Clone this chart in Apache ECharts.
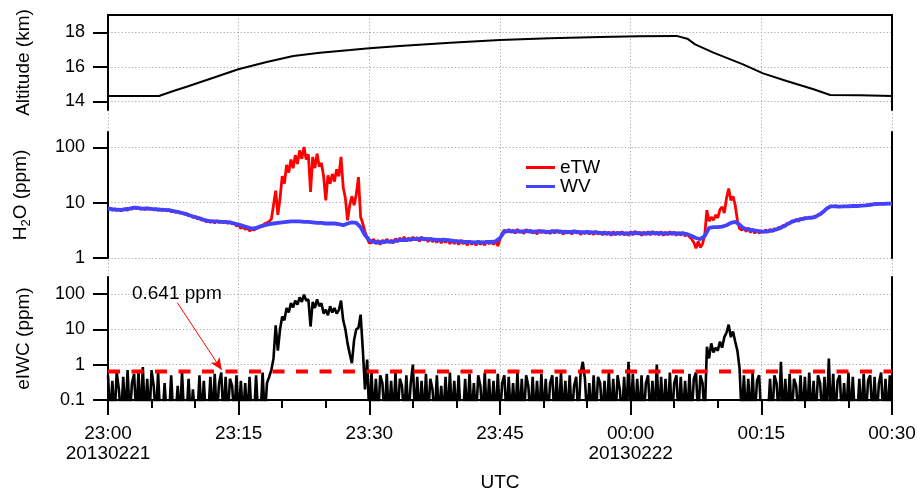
<!DOCTYPE html>
<html>
<head>
<meta charset="utf-8">
<script src="https://cdn.jsdelivr.net/npm/echarts@6/dist/echarts.min.js"></script>
<style>html,body{margin:0;padding:0;background:#fff}#c{width:917px;height:491px}</style>
</head>
<body>
<div id="c"></div>
<script>
// ---- DATA (time in minutes after 23:00 UTC, 20130221) ----
const xTickLabels = ['23:00\n20130221', '23:15', '23:30', '23:45', '00:00\n20130222', '00:15', '00:30'];

const altMinutes = [0, 5.85, 7.5, 9.03, 12.09, 14.96, 18.22, 21.27, 24.34, 27.8, 30, 33.5, 39.3, 45, 50.7, 56.5, 61, 65.28, 66.5, 67.4, 69.5, 72.9, 75.2, 77.9, 81.0, 82.9, 86.3, 90];
const altKm = [14.31, 14.31, 14.60, 14.85, 15.37, 15.86, 16.28, 16.63, 16.82, 16.97, 17.07, 17.2, 17.4, 17.55, 17.65, 17.73, 17.77, 17.79, 17.63, 17.30, 16.82, 16.14, 15.62, 15.18, 14.70, 14.37, 14.35, 14.31];

// WV (ppm), sampled every 0.5 min from 23:00
const wvStartMin = 0, wvStepMin = 0.5;
const wvPpm = [
  7.8, 7.6, 7.5, 7.4, 7.6, 7.8, 8.1, 8.0, 7.8, 7.9,
  7.7, 7.6, 7.5, 7.4, 7.3, 7.0, 6.8, 6.5, 6.2, 5.8,
  5.5, 5.2, 4.9, 4.7, 4.6, 4.6, 4.5, 4.5, 4.4, 4.2,
  4.0, 3.8, 3.6, 3.4, 3.5, 3.7, 3.9, 4.1, 4.2, 4.3,
  4.4, 4.5, 4.6, 4.6, 4.6, 4.5, 4.5, 4.4, 4.3, 4.3,
  4.2, 4.2, 4.2, 4.1, 3.9, 4.2, 4.4, 4.3, 3.6, 2.6,
  2.1, 1.95, 1.9, 1.95, 2.0, 1.95, 2.05, 2.1, 2.1, 2.15,
  2.2, 2.2, 2.25, 2.2, 2.2, 2.15, 2.1, 2.15, 2.1, 2.05,
  2.0, 2.0, 1.95, 1.95, 1.9, 1.95, 1.9, 1.95, 1.95, 2.0,
  2.3, 3.0, 3.1, 3.0, 3.05, 3.0, 3.1, 3.0, 3.0, 3.05,
  3.0, 2.95, 3.0, 3.05, 3.0, 2.95, 2.95, 3.0, 2.95, 2.9,
  2.95, 2.9, 2.9, 2.85, 2.8, 2.8, 2.75, 2.8, 2.8, 2.75,
  2.8, 2.85, 2.8, 2.75, 2.8, 2.85, 2.8, 2.8, 2.75, 2.8,
  2.8, 2.75, 2.8, 2.7, 2.5, 2.3, 2.2, 2.5, 3.5, 3.6,
  3.6, 3.7, 3.9, 4.3, 4.5, 4.0, 3.4, 3.3, 3.2, 3.1,
  3.0, 3.0, 3.1, 3.2, 3.4, 3.7, 4.1, 4.5, 4.8, 5.0,
  5.2, 5.3, 5.4, 5.9, 6.6, 7.8, 8.6, 8.6, 8.5, 8.6,
  8.6, 8.7, 8.7, 8.8, 8.9, 9.1, 9.4, 9.5, 9.5, 9.6,
  9.6
];

// eTW (ppm), sampled every 0.25 min; each row = 2 minutes
const etwStartMin = 0, etwStepMin = 0.25;
const etwPpm = [
  7.6, 8.0, 7.3, 7.7, 7.2, 7.6, 7.1, 7.5,      // 0
  7.7, 7.3, 8.0, 7.6, 8.3, 7.8, 8.1, 7.6,      // 2
  7.9, 7.5, 8.0, 7.6, 7.8, 7.4, 7.7, 7.3,      // 4
  7.6, 7.2, 7.5, 7.1, 7.4, 6.9, 7.1, 6.7,      // 6
  6.9, 6.5, 6.6, 6.2, 6.3, 5.8, 5.9, 5.4,      // 8
  5.6, 5.1, 5.3, 4.8, 5.0, 4.5, 4.8, 4.4,      // 10
  4.7, 4.3, 4.7, 4.4, 4.6, 4.3, 4.6, 4.2,      // 12
  4.5, 4.1, 4.3, 3.8, 3.9, 3.4, 3.7, 3.3,      // 14
  3.5, 3.1, 3.3, 3.2, 3.4, 3.5, 3.8, 3.9,      // 16
  4.2, 4.3, 4.6, 5.0, 9.0, 16.5, 6.0, 12,      // 18
  30, 22, 48, 35, 60, 42, 72, 50,              // 20
  88, 62, 101, 60, 75, 15.6, 67, 42,           // 22
  77, 45, 52, 30, 11, 31, 22, 33,              // 24
  24, 40, 30, 67, 19, 12, 4.8, 9,              // 26
  13, 9, 14, 29, 5.5, 4.2, 3.0, 2.3,           // 28
  1.85, 1.9, 2.2, 1.8, 2.1, 1.75, 2.1, 1.85,   // 30
  2.2, 1.9, 2.1, 1.85, 2.25, 1.95, 2.3, 2.0,   // 32
  2.4, 2.0, 2.3, 2.05, 2.4, 2.1, 2.35, 2.0,    // 34
  2.4, 2.1, 2.3, 1.95, 2.3, 1.95, 2.2, 1.9,    // 36
  2.25, 1.85, 2.2, 1.9, 2.2, 1.8, 2.15, 1.8,   // 38
  2.1, 1.75, 2.1, 1.8, 2.0, 1.7, 2.05, 1.75,   // 40
  2.0, 1.7, 2.0, 1.75, 2.0, 1.7, 2.05, 1.8,    // 42
  2.0, 1.75, 2.05, 1.65, 2.2, 2.8, 3.2, 2.9,   // 44
  3.3, 2.9, 3.2, 2.8, 3.3, 2.9, 3.1, 2.75,     // 46
  3.3, 2.9, 3.2, 2.8, 3.1, 2.7, 3.2, 2.85,     // 48
  3.15, 2.8, 3.1, 2.75, 3.2, 2.8, 3.15, 2.85,  // 50
  3.1, 2.7, 3.1, 2.8, 3.05, 2.7, 3.15, 2.8,    // 52
  3.05, 2.65, 3.0, 2.75, 3.1, 2.7, 3.0, 2.65,  // 54
  3.05, 2.7, 2.95, 2.6, 3.0, 2.65, 2.95, 2.55, // 56
  3.0, 2.6, 2.95, 2.65, 3.0, 2.6, 2.9, 2.55,   // 58
  3.0, 2.6, 3.05, 2.7, 2.95, 2.55, 2.95, 2.65, // 60
  3.0, 2.6, 3.05, 2.65, 2.95, 2.6, 3.0, 2.55,  // 62
  2.95, 2.6, 3.0, 2.65, 2.95, 2.55, 2.9, 2.6,  // 64
  2.9, 2.5, 2.7, 2.4, 2.2, 1.9, 1.5, 2.0,      // 66
  1.55, 1.8, 2.6, 7.3, 4.6, 5.5, 4.8, 6.0,     // 68
  5.3, 7.5, 8.4, 6.5, 12, 18, 11, 13,          // 70
  9, 4.8, 3.4, 3.2, 3.6, 3.0, 3.5, 2.9,        // 72
  3.3, 2.8, 3.2, 2.8, 3.1, 2.9, 3.2, 2.9,      // 74
  3.3, 3.0, 3.4, 3.2, 3.6, 3.4, 3.9, 3.7,      // 76
  4.3, 4.1, 4.7, 4.5, 5.0, 4.6, 5.2, 4.9,      // 78
  5.4, 5.1, 5.5, 5.2, 5.6, 5.4, 6.1, 6.0,      // 80
  6.8, 7.0, 7.9, 8.3, 8.7, 8.5, 8.8, 8.4,      // 82
  8.6, 8.5, 8.7, 8.5, 8.7, 8.6, 8.8, 8.6,      // 84
  8.8, 8.7, 8.9, 8.8, 9.0, 9.0, 9.2, 9.3,      // 86
  9.5, 9.4, 9.6, 9.5, 9.6, 9.5, 9.7, 9.6,      // 88
  9.6                                          // 90
];

// eIWC (ppm), sampled every 0.25 min; values under 0.1 fall below the axis
const eiwcStartMin = 0, eiwcStepMin = 0.25;
const eiwcPpm = [
  0.5, 0.03, 0.35, 0.03, 0.6, 0.2, 0.03, 0.45,   // 0
  0.03, 0.7, 0.03, 0.3, 0.55, 0.03, 0.65, 0.03,  // 2
  0.85, 0.03, 0.4, 0.03, 0.7, 0.25, 0.03, 0.6,   // 4
  0.03, 0.03, 0.3, 0.03, 0.03, 0.5, 0.03, 0.03,  // 6
  0.25, 0.03, 0.6, 0.03, 0.03, 0.4, 0.03, 0.2,   // 8
  0.03, 0.03, 0.5, 0.03, 0.35, 0.03, 0.03, 0.45, // 10
  0.03, 0.55, 0.03, 0.3, 0.6, 0.03, 0.45, 0.03,  // 12
  0.4, 0.25, 0.03, 0.5, 0.03, 0.35, 0.03, 0.3,   // 14
  0.03, 0.45, 0.03, 0.03, 0.5, 0.03, 0.03, 0.6,  // 16
  0.03, 0.3, 0.45, 0.7, 1.5, 13, 2.5, 10,        // 18
  23, 18, 40, 30, 55, 42, 65, 50,                // 20
  80, 60, 95, 65, 70, 12, 60, 40,                // 22
  70, 45, 55, 28, 36, 25, 45, 30,                // 24
  40, 28, 35, 65, 18, 10, 4, 2,                  // 26
  1.1, 5, 10, 11, 26, 2.7, 0.2, 1.4,             // 28
  0.03, 0.6, 0.03, 0.4, 0.03, 0.5, 0.3, 0.03,    // 30
  0.55, 0.03, 0.35, 0.03, 0.6, 0.03, 0.4, 0.25,  // 32
  0.03, 0.5, 0.03, 0.3, 1.0, 0.03, 0.45, 0.03,   // 34
  0.35, 0.03, 0.55, 0.03, 0.4, 0.2, 0.03, 0.5,   // 36
  0.03, 0.25, 0.03, 0.45, 0.03, 0.6, 0.03, 0.35, // 38
  0.03, 0.5, 0.03, 0.03, 0.4, 0.03, 0.55, 0.03,  // 40
  0.3, 0.03, 0.5, 0.25, 0.03, 0.6, 0.03, 0.4,    // 42
  0.03, 0.35, 0.03, 0.55, 0.03, 0.3, 0.5, 0.03,  // 44
  0.45, 0.03, 0.3, 0.03, 0.6, 0.03, 0.4, 0.03,   // 46
  0.5, 0.25, 0.03, 0.45, 0.03, 0.35, 0.03, 0.55, // 48
  0.03, 0.4, 0.03, 0.3, 0.5, 0.03, 0.45, 0.03,   // 50
  0.6, 0.03, 0.35, 0.03, 0.5, 0.03, 0.25, 0.45,  // 52
  0.03, 0.55, 1.2, 0.4, 0.03, 0.3, 0.03, 0.5,    // 54
  0.03, 0.45, 0.3, 0.03, 0.35, 0.03, 0.6, 0.03,  // 56
  0.4, 0.03, 0.5, 0.2, 0.03, 0.45, 0.03, 1.2,    // 58
  0.03, 0.55, 0.03, 0.4, 0.03, 0.5, 0.03, 0.3,   // 60
  0.5, 0.03, 0.35, 0.03, 1.0, 0.03, 0.45, 0.03,  // 62
  0.4, 0.03, 0.6, 0.03, 0.3, 0.5, 0.03, 0.45,    // 64
  0.03, 0.35, 0.03, 0.55, 0.03, 0.4, 0.6, 0.03,  // 66
  0.5, 0.3, 0.03, 3.2, 1.5, 4, 2.2, 3,           // 68
  2.5, 4.5, 3, 6, 8, 13.5, 6, 8.7,               // 70
  4.5, 2.5, 0.8, 0.03, 0.5, 0.03, 0.4, 0.03,     // 72
  0.6, 0.03, 0.35, 0.5, 0.03, 0.03, 0.03, 0.03,  // 74
  0.4, 0.03, 0.5, 0.3, 0.03, 1.2, 0.03, 0.4,     // 76
  0.03, 0.55, 0.03, 0.4, 0.25, 0.03, 0.5, 0.03,  // 78
  0.45, 0.03, 0.6, 0.03, 0.35, 0.03, 0.5, 0.3,   // 80
  0.03, 0.45, 0.03, 1.5, 0.03, 0.55, 0.03, 0.35, // 82
  0.5, 0.03, 0.3, 0.03, 0.6, 0.03, 0.45, 0.03,   // 84
  0.03, 0.4, 0.03, 0.55, 0.03, 0.35, 0.5, 0.03,  // 86
  0.45, 0.03, 0.3, 0.6, 0.03, 0.4, 0.03, 0.5,    // 88
  0.03                                           // 90
];

const thresholdPpm = 0.641;
const thresholdLabel = '0.641 ppm';

// ---- CHART ----
const FONT = 'Liberation Sans, Arial, Helvetica, sans-serif';
const toPairs = (vals, start, step) => vals.map((v, i) => [start + i * step, v]);

const gridL = 108, gridR = 25;
const axisLineStyle = { color: '#000', width: 2 };
const gridLineStyle = { color: '#a8a8a8', width: 1, type: [1.2, 2.2] };
const tickLabelStyle = { color: '#000', fontSize: 18, fontFamily: FONT };
const nameStyle = { color: '#000', fontSize: 19, fontFamily: FONT };

function hiddenX(gi) {
  return { type: 'value', gridIndex: gi, min: 0, max: 90, interval: 15,
    axisLine: { show: false }, axisTick: { show: false }, axisLabel: { show: false }, splitLine: { show: false } };
}
function rightY(gi) {
  return { type: 'value', gridIndex: gi, position: 'right', min: 0, max: 1,
    axisLine: { show: true, onZero: false, lineStyle: axisLineStyle },
    axisTick: { show: false }, axisLabel: { show: false }, splitLine: { show: false } };
}
function leftY(gi, opts) {
  return Object.assign({
    gridIndex: gi, position: 'left',
    nameLocation: 'middle', nameRotate: 90, nameGap: 75, nameTextStyle: nameStyle,
    axisLine: { show: true, onZero: false, lineStyle: axisLineStyle },
    axisTick: { show: true, inside: false, length: 15, lineStyle: { color: '#000', width: 2 }, customValues: opts.ticks },
    axisLabel: { show: true, margin: 23, customValues: opts.ticks, ...tickLabelStyle, formatter: v => String(v) },
    splitLine: { show: true, lineStyle: gridLineStyle }
  }, opts.base);
}
const gridBase = { left: gridL, right: gridR, containLabel: false, outerBoundsMode: 'none' };

const option = {
  animation: false,
  backgroundColor: '#fff',
  textStyle: { fontFamily: FONT },
  grid: [
    Object.assign({ top: 15, height: 95 }, gridBase),
    Object.assign({ top: 132, height: 126 }, gridBase),
    Object.assign({ top: 277, height: 123 }, gridBase),
    Object.assign({ top: 15, height: 385 }, gridBase)
  ],
  xAxis: [
    hiddenX(0),
    { type: 'value', gridIndex: 0, position: 'top', min: 0, max: 90,
      axisLine: { show: true, onZero: false, lineStyle: axisLineStyle },
      axisTick: { show: false }, axisLabel: { show: false }, splitLine: { show: false } },
    hiddenX(1),
    { type: 'value', gridIndex: 2, position: 'bottom', min: 0, max: 90, interval: 15,
      name: 'UTC', nameLocation: 'middle', nameGap: 73, nameTextStyle: nameStyle,
      axisLine: { show: true, onZero: false, lineStyle: axisLineStyle },
      axisTick: { show: true, length: 15, lineStyle: { color: '#000', width: 2 } },
      minorTick: { show: true, splitNumber: 3, length: 8, lineStyle: { color: '#000', width: 2 } },
      axisLabel: { show: true, margin: 24, color: '#000', fontSize: 19, fontFamily: FONT, lineHeight: 20,
        showMinLabel: true, showMaxLabel: true, hideOverlap: false,
        formatter: v => xTickLabels[Math.round(v / 15)] },
      splitLine: { show: false } },
    { type: 'value', gridIndex: 3, min: 0, max: 90, interval: 15,
      axisLine: { show: false }, axisTick: { show: false }, axisLabel: { show: false },
      splitLine: { show: true, lineStyle: gridLineStyle } }
  ],
  yAxis: [
    leftY(0, { ticks: [14, 16, 18], base: { type: 'value', min: 13.5, max: 19.0, name: 'Altitude (km)' } }),
    rightY(0),
    leftY(1, { ticks: [1, 10, 100], base: { type: 'log', logBase: 10, min: 1, max: 189,
      name: '{n|H}{s|2}{n|O (ppm)}',
      nameTextStyle: Object.assign({}, nameStyle, { rich: {
        n: { fontSize: 19, fontFamily: FONT, color: '#000', lineHeight: 24, verticalAlign: 'middle' },
        s: { fontSize: 13, fontFamily: FONT, color: '#000', lineHeight: 24, verticalAlign: 'bottom' } } }) } }),
    rightY(1),
    leftY(2, { ticks: [0.1, 1, 10, 100], base: { type: 'log', logBase: 10, min: 0.1, max: 302, name: 'eIWC (ppm)' } }),
    rightY(2),
    { type: 'value', gridIndex: 3, min: 0, max: 1, show: false }
  ],
  legend: {
    data: ['eTW', 'WV'], orient: 'vertical', left: 521, top: 153,
    icon: 'rect', itemWidth: 29, itemHeight: 3, itemGap: 0,
    textStyle: { color: '#000', fontSize: 19, fontFamily: FONT, lineHeight: 19 }
  },
  series: [
    { name: 'Altitude', type: 'line', xAxisIndex: 0, yAxisIndex: 0, showSymbol: false,
      data: altMinutes.map((m, i) => [m, altKm[i]]),
      lineStyle: { color: '#000', width: 2 }, itemStyle: { color: '#000' } },
    { name: 'eTW', type: 'line', xAxisIndex: 2, yAxisIndex: 2, showSymbol: false,
      data: toPairs(etwPpm, etwStartMin, etwStepMin),
      lineStyle: { color: '#ff0000', width: 2.8 }, itemStyle: { color: '#ff0000' } },
    { name: 'WV', type: 'line', xAxisIndex: 2, yAxisIndex: 2, showSymbol: false,
      data: toPairs(wvPpm, wvStartMin, wvStepMin),
      lineStyle: { color: '#4343ff', width: 3.8 }, itemStyle: { color: '#4343ff' } },
    { name: 'eIWC', type: 'line', xAxisIndex: 3, yAxisIndex: 4, showSymbol: false, clip: true,
      data: toPairs(eiwcPpm, eiwcStartMin, eiwcStepMin),
      lineStyle: { color: '#000', width: 2.6 }, itemStyle: { color: '#000' },
      markLine: { silent: true, symbol: ['none', 'arrow'], symbolSize: [8, 12],
        lineStyle: { color: '#ff0000', width: 1, type: 'solid' }, label: { show: false },
        data: [[{ coord: [7.95, 57] }, { coord: [13.05, 0.71] }]] },
      markPoint: { silent: true, symbol: 'rect', symbolSize: 0,
        label: { show: true, position: 'inside', formatter: thresholdLabel, color: '#000', fontSize: 19, fontFamily: FONT },
        data: [{ coord: [7.9, 100] }] } },
    { name: 'threshold', type: 'line', xAxisIndex: 3, yAxisIndex: 4, showSymbol: false,
      data: [[0, thresholdPpm], [90, thresholdPpm]],
      lineStyle: { color: '#ff0000', width: 4, type: [12, 11.5] }, itemStyle: { color: '#ff0000' } }
  ]
};
const chart = echarts.init(document.getElementById('c'), null, { renderer: 'canvas' });
chart.setOption(option);
</script>
</body>
</html>
